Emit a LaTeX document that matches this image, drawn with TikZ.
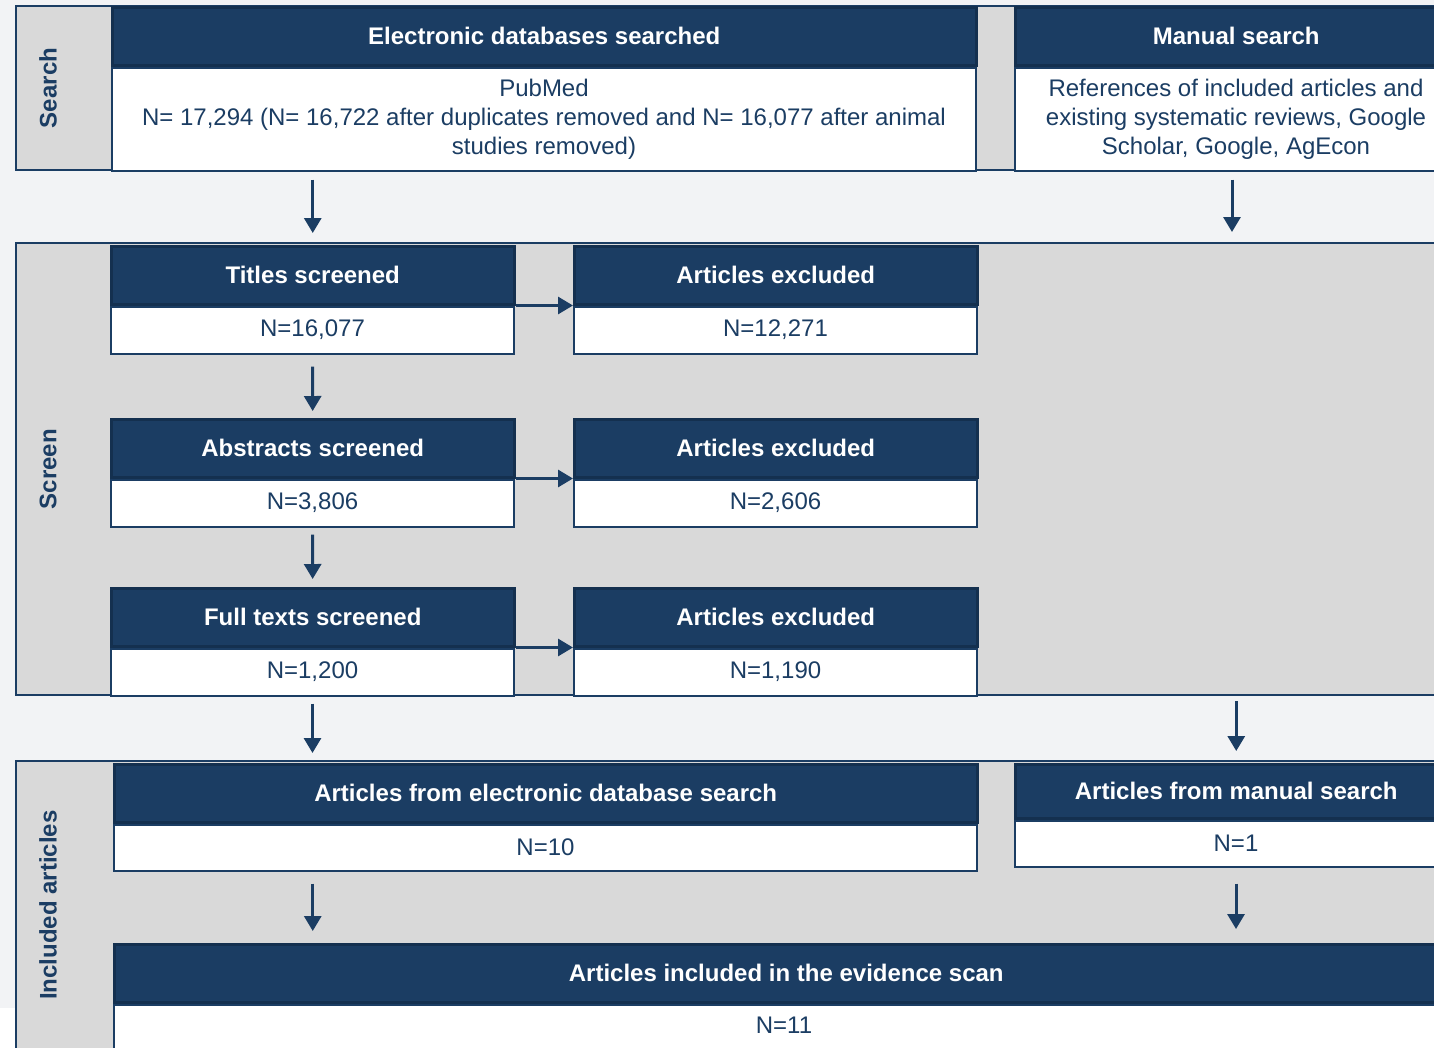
\documentclass[tikz,border=0pt]{standalone}
\usepackage{fontspec}
\setmainfont{Liberation Sans}
\usetikzlibrary{arrows.meta}
\definecolor{navy}{HTML}{1B3D63}
\definecolor{navyline}{HTML}{14304F}
\definecolor{panelgray}{HTML}{D9D9D9}
\definecolor{pagegray}{HTML}{F2F3F5}
\tikzset{
  panel/.style={draw=navy, fill=panelgray, line width=2pt, anchor=north west, inner sep=0pt},
  panellabel/.style={rotate=90, text=navy, font=\fontsize{24}{28}\selectfont\bfseries},
  headbox/.style={draw=navyline, fill=navy, line width=2.5pt, text=white, anchor=north west,
    inner sep=0pt, minimum height=58pt, font=\fontsize{24}{28}\selectfont\bfseries},
  bodybox/.style={draw=navy, fill=white, line width=2pt, text=navy, anchor=north west,
    inner sep=0pt, align=center, font=\fontsize{24}{29}\selectfont},
  flow/.style={draw=navy, line width=3pt, -{Triangle[length=15pt,width=17pt]}}
}
\begin{document}
\begin{tikzpicture}[x=1pt,y=-1pt]
  \useasboundingbox (0,0) rectangle (1434,1047);
  \clip (0,0) rectangle (1434,1047);
  \fill[pagegray] (0,0) rectangle (1434,1008);
  % panels
  \node[panel, minimum width=1445pt, minimum height=164pt] (search) at (15,5) {};
  \node[panel, minimum width=1445pt, minimum height=452pt] (screen) at (15,242) {};
  \node[panel, minimum width=1445pt, minimum height=320pt] (included) at (15,760) {};
  \node[panellabel] (searchlbl) at (48,88) {Search};
  \node[panellabel] (screenlbl) at (48,469) {Screen};
  \node[panellabel] (includedlbl) at (48,905) {Included articles};
  % search
  \node[headbox, minimum width=864pt] (elec) at (111,6) {Electronic databases searched};
  \node[bodybox, minimum width=864pt, minimum height=103pt] (elec-n) at (elec.south west)
    {PubMed\\N= 17,294 (N= 16,722 after duplicates removed and N= 16,077 after animal\\studies removed)};
  \node[headbox, minimum width=442pt] (manual) at (1014,6) {Manual search};
  \node[bodybox, minimum width=442pt, minimum height=103pt] (manual-n) at (manual.south west)
    {References of included articles and\\existing systematic reviews, Google\\Scholar, Google, AgEcon};
  % screen
  \foreach \id/\y/\name/\nin/\nout in {
      titles/245/Titles screened/{N=16,077}/{N=12,271},
      abstracts/418/Abstracts screened/{N=3,806}/{N=2,606},
      fulltexts/587/Full texts screened/{N=1,200}/{N=1,190}}{
    \node[headbox, minimum width=403pt] (\id) at (110,\y) {\name};
    \node[bodybox, minimum width=403pt, minimum height=47pt] (\id-n) at (\id.south west) {\nin};
    \node[headbox, minimum width=403pt] (\id-x) at (573,\y) {Articles excluded};
    \node[bodybox, minimum width=403pt, minimum height=47pt] (\id-xn) at (\id-x.south west) {\nout};
    \path[flow] (\id.south east) -- (\id-x.south west);
  }
  % included
  \node[headbox, minimum width=863pt] (elecin) at (113,763) {Articles from electronic database search};
  \node[bodybox, minimum width=863pt, minimum height=46pt] (elecin-n) at (elecin.south west) {N=10};
  \node[headbox, minimum width=442pt, minimum height=54pt] (manin) at (1014,763) {Articles from manual search};
  \node[bodybox, minimum width=442pt, minimum height=46pt] (manin-n) at (manin.south west) {N=1};
  \node[headbox, minimum width=1344pt] (final) at (113,943) {Articles included in the evidence scan};
  \node[bodybox, minimum width=1344pt, minimum height=60pt] (final-n) at (final.south west) {};
  \node[text=navy, font=\fontsize{24}{29}\selectfont] (final-t) at (784,1025) {N=11};
  % arrows
  \path[flow, shorten <=8pt, shorten >=12pt] (titles |- elec-n.south) -- (titles.north);
  \path[flow, shorten <=8pt, shorten >=10pt] ([xshift=-4pt]manual-n.south) -- ([xshift=-4pt]manual-n.south |- screen.north);
  \path[flow, shorten <=12pt, shorten >=7pt] (titles-n) -- (abstracts);
  \path[flow, shorten <=7pt, shorten >=8pt] (abstracts-n) -- (fulltexts);
  \path[flow, shorten <=7pt, shorten >=10pt] (fulltexts-n.south) -- (fulltexts-n.south |- elecin.north);
  \path[flow, shorten <=5pt, shorten >=12pt] (screen.south -| manin) -- (manin.north);
  \path[flow, shorten <=12pt, shorten >=12pt] (fulltexts |- elecin-n.south) -- (fulltexts |- final.north);
  \path[flow, shorten <=16pt, shorten >=14pt] (manin-n.south) -- (manin-n.south |- final.north);
\end{tikzpicture}
\end{document}
